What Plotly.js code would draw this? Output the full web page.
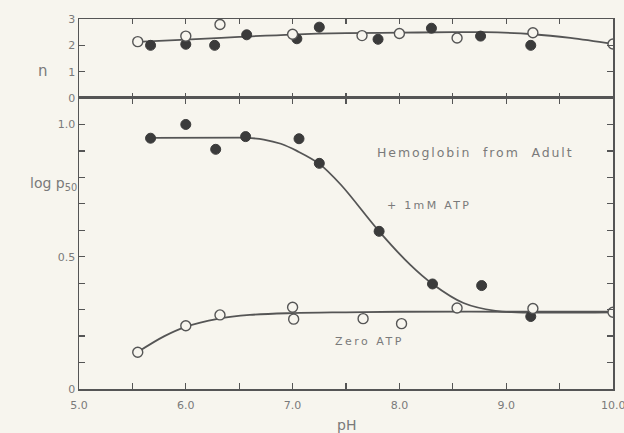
<!DOCTYPE html>
<html>
<head>
<meta charset="utf-8">
<script src="https://cdn.plot.ly/plotly-3.0.1.min.js"></script>
<style>html,body{margin:0;padding:0;background:#f7f5ee;}</style>
</head>
<body>
<div id="chart" style="width:624px;height:433px;"></div>
<script>
// ---- Data ----
// Top panel: Hill coefficient n
const nOpenPH   = [5.55, 6.0, 6.32, 7.0, 7.65, 8.0, 8.54, 9.25, 10.0];
const nOpenVal  = [2.14, 2.35, 2.79, 2.42, 2.37, 2.45, 2.28, 2.48, 2.05];
const nFilledPH  = [5.67, 6.0, 6.27, 6.57, 7.04, 7.25, 7.80, 8.30, 8.76, 9.23];
const nFilledVal = [2.0, 2.04, 2.0, 2.40, 2.25, 2.69, 2.23, 2.65, 2.35, 2.0];
const nCurvePH  = [5.55, 6.0, 6.5, 7.0, 7.5, 8.0, 8.5, 8.8, 9.25, 9.6, 10.0];
const nCurveVal = [2.13, 2.22, 2.32, 2.41, 2.46, 2.48, 2.5, 2.5, 2.42, 2.28, 2.05];

// Bottom panel: log p50
const atpPH   = [5.67, 6.0, 6.28, 6.56, 7.06, 7.25, 7.81, 8.31, 8.77, 9.23];
const atpVal  = [0.948, 1.0, 0.906, 0.954, 0.946, 0.853, 0.596, 0.397, 0.391, 0.274];
const zeroPH  = [5.55, 6.0, 6.32, 7.0, 7.01, 7.66, 8.02, 8.54, 9.25, 10.0];
const zeroVal = [0.139, 0.239, 0.280, 0.309, 0.264, 0.266, 0.247, 0.306, 0.304, 0.290];
const atpFlatPH  = [5.67, 6.56];
const atpFlatVal = [0.949, 0.950];
const atpCurvePH  = [6.56, 6.73, 6.89, 7.04, 7.25, 7.45, 7.81, 8.1, 8.31, 8.6, 8.9, 9.1, 10.0];
const atpCurveVal = [0.950, 0.943, 0.927, 0.90, 0.851, 0.773, 0.596, 0.47, 0.397, 0.325, 0.295, 0.29, 0.29];
const zeroCurvePH  = [5.55, 5.8, 6.0, 6.3, 6.6, 7.0, 7.5, 8.0, 9.0, 10.0];
const zeroCurveVal = [0.14, 0.20, 0.235, 0.265, 0.28, 0.287, 0.29, 0.292, 0.292, 0.292];

const xTickVals = [5.0, 5.5, 6.0, 6.5, 7.0, 7.5, 8.0, 8.5, 9.0, 9.5, 10.0];
const xTickText = ["5.0", "", "6.0", "", "7.0", "", "8.0", "", "9.0", "", "10.0"];
const yTickVals = [0, 0.1, 0.2, 0.3, 0.4, 0.5, 0.6, 0.7, 0.8, 0.9, 1.0];
const yTickText = ["0", "", "", "", "", "0.5", "", "", "", "", "1.0"];
const nTickVals = [0, 1, 2, 3];
const nTickText = ["0", "1", "2", "3"];

const bg = '#f7f5ee';
const ink = '#3b3b3b';
const lineCol = '#555555';
const textCol = '#7a7a7a';

const openMarker = {symbol: 'circle', size: 10, color: bg, line: {color: '#555', width: 1.4}};
const filledMarker = {symbol: 'circle', size: 10, color: ink, line: {color: ink, width: 1}};
const curveLine = {color: lineCol, width: 1.8, shape: 'spline'};

const traces = [
  {x: nCurvePH, y: nCurveVal, xaxis: 'x2', yaxis: 'y2', mode: 'lines', line: curveLine},
  {x: nFilledPH, y: nFilledVal, xaxis: 'x2', yaxis: 'y2', mode: 'markers', marker: filledMarker},
  {x: nOpenPH, y: nOpenVal, xaxis: 'x2', yaxis: 'y2', mode: 'markers', marker: openMarker},
  {x: zeroCurvePH, y: zeroCurveVal, mode: 'lines', line: curveLine},
  {x: atpFlatPH, y: atpFlatVal, mode: 'lines', line: {color: lineCol, width: 1.8}},
  {x: atpCurvePH, y: atpCurveVal, mode: 'lines', line: curveLine},
  {x: atpPH, y: atpVal, mode: 'markers', marker: filledMarker},
  {x: zeroPH, y: zeroVal, mode: 'markers', marker: openMarker}
];

const tickFont = {family: 'DejaVu Sans', size: 11, color: textCol};
const axLine = {showline: true, linecolor: lineCol, linewidth: 1.5, ticks: 'inside', tickcolor: lineCol, tickwidth: 1.2, mirror: 'ticks', showgrid: false, zeroline: false, fixedrange: true};

// last x tick label drawn as annotation so it is not dropped at the page edge
const shownXText = xTickText.slice(0, -1).concat([""]);

function spaced(s, px) {
  return '<span style="letter-spacing:' + px + 'px">' + s + '</span>';
}

const layout = {
  width: 624, height: 433,
  margin: {l: 79, r: 11, t: 19, b: 44},
  paper_bgcolor: bg, plot_bgcolor: bg,
  showlegend: false,
  font: tickFont,
  xaxis: Object.assign({}, axLine, {range: [5, 10], tickvals: xTickVals, ticktext: shownXText, ticklen: 6, anchor: 'y', tickfont: tickFont, ticklabelstandoff: 5}),
  yaxis: Object.assign({}, axLine, {range: [0, 1.1], domain: [0, 0.7865], tickvals: yTickVals, ticktext: yTickText, ticklen: 6, tickfont: tickFont}),
  xaxis2: Object.assign({}, axLine, {range: [5, 10], tickvals: xTickVals, showticklabels: false, ticklen: 5, anchor: 'y2', matches: 'x'}),
  yaxis2: Object.assign({}, axLine, {range: [0, 3], domain: [0.7865, 1], tickvals: nTickVals, ticktext: nTickText, ticklen: 6, anchor: 'x2', tickfont: tickFont}),
  annotations: [
    {xref: 'x', yref: 'paper', x: xTickVals[xTickVals.length - 1], y: 0, yshift: -8, yanchor: 'top', xanchor: 'center', text: xTickText[xTickText.length - 1], showarrow: false, font: tickFont},
    {xref: 'paper', yref: 'paper', x: -0.08, y: 0.89, text: 'n', showarrow: false, font: {family: 'DejaVu Sans', size: 15, color: textCol}},
    {xref: 'paper', yref: 'paper', x: -0.095, y: 0.555, text: 'log p<sub>50</sub>', showarrow: false, font: {family: 'DejaVu Sans', size: 14, color: textCol}},
    {xref: 'paper', yref: 'paper', x: 0.5, y: -0.097, yanchor: 'middle', text: 'pH', showarrow: false, font: {family: 'DejaVu Sans', size: 14, color: textCol}},
    {xref: 'x', yref: 'y', x: 8.71, y: 0.893, text: spaced('Hemoglobin  from  Adult', 1.9), showarrow: false, font: {family: 'DejaVu Sans', size: 12.5, color: textCol}},
    {xref: 'x', yref: 'y', x: 8.28, y: 0.695, text: spaced('+ 1mM ATP', 2.3), showarrow: false, font: {family: 'DejaVu Sans', size: 11, color: textCol}},
    {xref: 'x', yref: 'y', x: 7.72, y: 0.178, text: spaced('Zero ATP', 2.5), showarrow: false, font: {family: 'DejaVu Sans', size: 11, color: textCol}}
  ]
};

Plotly.newPlot('chart', traces, layout, {staticPlot: true, displayModeBar: false});
</script>
</body>
</html>
